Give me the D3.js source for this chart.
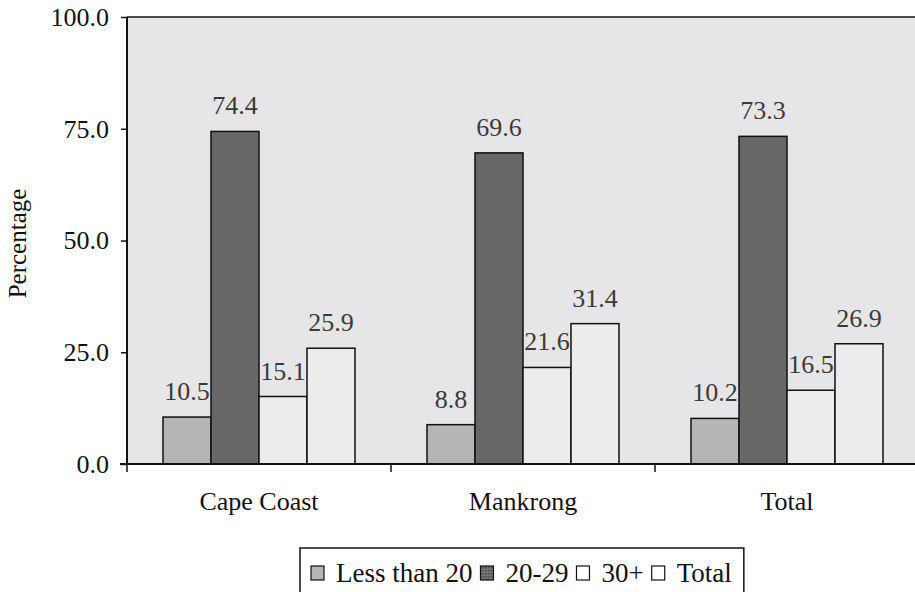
<!DOCTYPE html>
<html lang="en">
<head>
    <meta charset="UTF-8">
    <title>Age groups by location</title>
    <script src="https://d3js.org/d3.v7.min.js"></script>
    <style>
        body { margin: 0; background: #fff; font-family: "Liberation Serif", "Times New Roman", serif; }
        svg text { font-family: "Liberation Serif", "Times New Roman", serif; }
    </style>
</head>
<body>
    <div id="chart"></div>
    <script>
        // data
        const categories = ["Cape Coast", "Mankrong", "Total"];
        const series = ["Less than 20", "20-29", "30+", "Total"];
        const lessThan20 = [10.5, 8.8, 10.2];
        const age20to29 = [74.4, 69.6, 73.3];
        const age30plus = [15.1, 21.6, 16.5];
        const totals = [25.9, 31.4, 26.9];
        const yTicks = [0, 25, 50, 75, 100];

        const seriesValues = [lessThan20, age20to29, age30plus, totals];
        const fills = ["#b5b5b7", "#676768", "#ececec", "#ececec"];

        const W = 915, H = 592;
        const margin = {top: 17, left: 127, bottom: 128};
        const plotW = 792;
        const plotH = H - margin.top - margin.bottom;

        const svg = d3.select("#chart")
            .append("svg")
            .attr("width", W)
            .attr("height", H);

        const defs = svg.append("defs");
        const pat = defs.append("pattern")
            .attr("id", "speckle")
            .attr("width", 3)
            .attr("height", 3)
            .attr("patternUnits", "userSpaceOnUse");
        pat.append("rect").attr("width", 3).attr("height", 3).attr("fill", "#6a6a6a");
        pat.append("rect").attr("width", 1).attr("height", 1).attr("fill", "#9a9a9a");
        pat.append("rect").attr("x", 2).attr("y", 1).attr("width", 1).attr("height", 1).attr("fill", "#3e3e3e");

        const g = svg.append("g")
            .attr("transform", `translate(${margin.left},${margin.top})`);

        const x0 = d3.scaleBand().domain(categories).range([0, plotW]);
        const groupPad = 36;
        const x1 = d3.scaleBand().domain(series).range([groupPad, x0.bandwidth() - groupPad]);
        const y = d3.scaleLinear().domain([0, 100]).range([plotH, 0]);

        // plot background
        g.append("rect")
            .attr("width", plotW)
            .attr("height", plotH)
            .attr("fill", "#e6e6e8");

        // top border
        g.append("line")
            .attr("x1", 0).attr("x2", plotW)
            .attr("y1", 0).attr("y2", 0)
            .attr("stroke", "#111").attr("stroke-width", 1.5);

        const rows = categories.map((c, i) => ({
            cat: c,
            vals: series.map((s, j) => ({key: s, idx: j, v: seriesValues[j][i]}))
        }));

        const groups = g.selectAll(".grp")
            .data(rows)
            .enter().append("g")
            .attr("class", "grp")
            .attr("transform", d => `translate(${x0(d.cat)},0)`);

        groups.selectAll("rect")
            .data(d => d.vals)
            .enter().append("rect")
            .attr("x", d => x1(d.key))
            .attr("y", d => y(d.v))
            .attr("width", x1.bandwidth())
            .attr("height", d => plotH - y(d.v))
            .attr("fill", d => fills[d.idx])
            .attr("stroke", "#111")
            .attr("stroke-width", 1.5);

        groups.selectAll("text.val")
            .data(d => d.vals)
            .enter().append("text")
            .attr("class", "val")
            .attr("x", d => x1(d.key) + x1.bandwidth() / 2)
            .attr("y", d => y(d.v) - 17)
            .attr("text-anchor", "middle")
            .attr("font-size", 26)
            .attr("fill", "#3a3a3a")
            .text(d => d3.format(".1f")(d.v));

        // y axis
        const yAxis = d3.axisLeft(y)
            .tickValues(yTicks)
            .tickSize(6)
            .tickPadding(12)
            .tickFormat(d3.format(".1f"));
        const yg = g.append("g").call(yAxis);
        yg.select(".domain").attr("stroke", "#111").attr("stroke-width", 2).attr("d", `M0,0V${plotH}`);
        yg.selectAll(".tick line").attr("stroke", "#111").attr("stroke-width", 1.5);
        yg.selectAll(".tick text")
            .attr("font-size", 26)
            .attr("fill", "#111");

        // x axis
        const xAxis = d3.axisBottom(x0).tickSize(0).tickPadding(28);
        const xg = g.append("g")
            .attr("transform", `translate(0,${plotH})`)
            .call(xAxis);
        xg.select(".domain").attr("stroke", "#111").attr("stroke-width", 2).attr("d", `M-7,0H${plotW}`);
        xg.selectAll(".tick text")
            .attr("font-size", 26)
            .attr("fill", "#111");

        // category separators
        xg.selectAll(".sep")
            .data(categories)
            .enter().append("line")
            .attr("class", "sep")
            .attr("x1", d => x0(d)).attr("x2", d => x0(d))
            .attr("y1", 0).attr("y2", 8)
            .attr("stroke", "#111").attr("stroke-width", 1.5);

        // y label
        svg.append("text")
            .attr("transform", `translate(26,${margin.top + plotH / 2 + 3}) rotate(-90)`)
            .attr("text-anchor", "middle")
            .attr("font-size", 25)
            .attr("fill", "#111")
            .text("Percentage");

        // legend
        const legend = svg.append("g").attr("transform", "translate(300,548)");
        const legendSwatchFill = ["#b5b5b7", "url(#speckle)", "#fff", "#fff"];
        let lx = 11;
        const items = legend.selectAll(".item")
            .data(series)
            .enter().append("g")
            .attr("class", "item");
        items.append("rect")
            .attr("y", 18)
            .attr("width", 13)
            .attr("height", 14)
            .attr("fill", (d, i) => legendSwatchFill[i])
            .attr("stroke", "#111")
            .attr("stroke-width", 1.2);
        items.append("text")
            .attr("x", 25)
            .attr("y", 34)
            .attr("font-size", 27)
            .attr("fill", "#111")
            .text(d => d);
        items.each(function() {
            const w = d3.select(this).select("text").node().getComputedTextLength();
            d3.select(this).attr("transform", `translate(${lx},0)`);
            lx += 25 + w + 8;
        });
        legend.insert("rect", ":first-child")
            .attr("width", lx + 4)
            .attr("height", 60)
            .attr("fill", "#fff")
            .attr("stroke", "#111")
            .attr("stroke-width", 1.5);
    </script>
</body>
</html>
